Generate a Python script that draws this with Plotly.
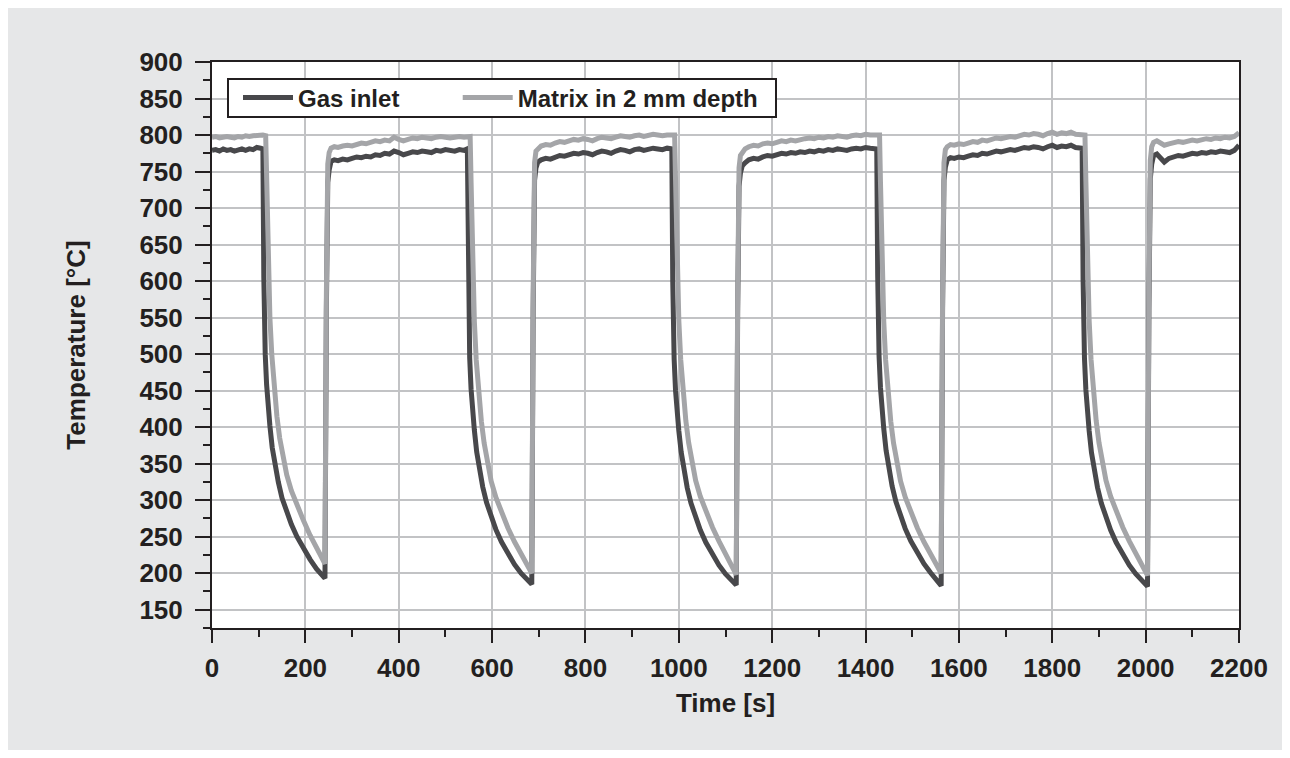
import plotly.graph_objects as go

# ---------------- data ----------------
gas_time = [
    0, 8, 16, 24, 32, 40, 48, 56, 64, 72, 80, 88, 96, 104, 109,
    111, 112, 114, 117, 120, 124, 129, 135, 142, 150, 160, 170, 182, 196, 210, 224, 234, 242,
    245, 248, 251,
    255, 262, 270, 280, 290, 300, 310, 320, 330, 340, 350, 360, 370, 380, 390, 400, 410, 420, 430, 440,
    450, 460, 470, 480, 490, 500, 510, 520, 530, 540, 547,
    549, 550, 552, 555, 558, 562, 567, 573, 580, 588, 598, 608, 620, 634, 648, 662, 674, 685,
    688, 691, 694,
    698, 705, 715, 725, 735, 745, 755, 765, 775, 785, 795, 805, 815, 825, 835, 845, 855, 865, 875, 885,
    895, 905, 915, 925, 935, 945, 955, 965, 975, 985,
    987, 988, 990, 993, 996, 1000, 1005, 1011, 1018, 1026, 1036, 1046, 1058, 1072, 1086, 1100, 1112, 1123,
    1126, 1129, 1132,
    1136, 1142, 1150, 1160, 1170, 1180, 1190, 1200, 1210, 1220, 1230, 1240, 1250, 1260, 1270, 1280, 1290,
    1300, 1310, 1320, 1330, 1340, 1350, 1360, 1370, 1380, 1390, 1400, 1410, 1424,
    1426, 1427, 1429, 1432, 1435, 1439, 1444, 1450, 1457, 1465, 1475, 1485, 1497, 1511, 1525, 1539, 1551, 1562,
    1565, 1568, 1571,
    1575, 1582, 1590, 1600, 1610, 1620, 1630, 1640, 1650, 1660, 1670, 1680, 1690, 1700, 1710, 1720, 1730,
    1740, 1750, 1760, 1770, 1780, 1790, 1800, 1810, 1820, 1830, 1840, 1850, 1864,
    1866, 1867, 1869, 1872, 1875, 1879, 1884, 1890, 1897, 1905, 1915, 1925, 1937, 1951, 1965, 1979, 1992, 2004,
    2007, 2010, 2013,
    2017, 2024, 2032, 2040, 2050, 2060, 2070, 2080, 2090, 2100, 2110, 2120, 2130, 2140, 2150, 2160, 2170,
    2180, 2190, 2196, 2200,
]
gas_temp = [
    779, 780, 778, 781, 779, 780, 778, 780, 781, 779, 781, 780, 783, 782, 781,
    605, 548, 500, 458, 428, 402, 372, 348, 325, 303, 283, 267, 250, 233, 219, 206, 199, 193,
    560, 735, 752,
    764, 766, 765, 767, 766, 768, 770, 769, 771, 770, 773, 772, 775, 774, 778, 776, 773, 775, 777, 776,
    778, 777, 776, 779, 778, 780, 779, 778, 780, 779, 781,
    605, 545, 495, 452, 422, 396, 366, 342, 318, 297, 277, 260, 243, 226, 212, 200, 192, 185,
    560, 738, 755,
    763, 766, 768, 767, 770, 772, 771, 773, 775, 774, 776, 775, 773, 776, 778, 777, 775, 778, 780, 779,
    777, 780, 781, 779, 780, 782, 781, 780, 782, 781,
    600, 542, 493, 450, 421, 395, 366, 341, 317, 296, 276, 259, 242, 225, 211, 199, 191, 184,
    555, 730, 748,
    758, 762, 766, 768, 767, 770, 772, 771, 773, 775, 774, 776, 775, 777, 776, 778, 777,
    779, 778, 780, 779, 781, 780, 779, 781, 782, 781, 783, 782, 781,
    608, 547, 497, 454, 424, 398, 368, 343, 319, 298, 278, 261, 244, 227, 213, 201, 191, 183,
    560, 738, 756,
    766, 769, 768, 770, 769, 771, 773, 772, 775, 774, 776, 778, 777, 779, 780, 779, 781,
    783, 782, 784, 783, 781, 784, 786, 783, 785, 784, 786, 783, 782,
    603, 544, 494, 451, 421, 395, 365, 341, 317, 296, 276, 259, 242, 225, 211, 199, 190, 182,
    560, 740, 760,
    772, 774, 768, 763, 768, 770, 772, 771, 773, 775, 774, 776, 775, 777, 776, 778, 777,
    776, 779, 784, 786,
]

matrix_time = [
    0, 8, 16, 24, 32, 40, 48, 56, 64, 72, 80, 88, 96, 104, 109,
    115, 117, 119, 121, 124, 128, 133, 139, 145, 152, 160, 170, 182, 196, 210, 224, 234, 242,
    245, 248, 251,
    255, 262, 270, 280, 290, 300, 310, 320, 330, 340, 350, 360, 370, 380, 390, 400, 410, 420, 430, 440,
    450, 460, 470, 480, 490, 500, 510, 520, 530, 540, 547,
    553, 555, 557, 559, 562, 566, 571, 577, 583, 590, 598, 608, 620, 634, 648, 662, 674, 685,
    688, 691, 694,
    698, 705, 715, 725, 735, 745, 755, 765, 775, 785, 795, 805, 815, 825, 835, 845, 855, 865, 875, 885,
    895, 905, 915, 925, 935, 945, 955, 965, 975, 985,
    991, 993, 995, 997, 1000, 1004, 1009, 1015, 1021, 1028, 1036, 1046, 1058, 1072, 1086, 1100, 1112, 1123,
    1126, 1129, 1132,
    1136, 1142, 1150, 1160, 1170, 1180, 1190, 1200, 1210, 1220, 1230, 1240, 1250, 1260, 1270, 1280, 1290,
    1300, 1310, 1320, 1330, 1340, 1350, 1360, 1370, 1380, 1390, 1400, 1410, 1424,
    1430, 1432, 1434, 1436, 1439, 1443, 1448, 1454, 1460, 1467, 1475, 1485, 1497, 1511, 1525, 1539, 1551, 1562,
    1565, 1568, 1571,
    1575, 1582, 1590, 1600, 1610, 1620, 1630, 1640, 1650, 1660, 1670, 1680, 1690, 1700, 1710, 1720, 1730,
    1740, 1750, 1760, 1770, 1780, 1790, 1800, 1810, 1820, 1830, 1840, 1850, 1864,
    1870, 1872, 1874, 1876, 1879, 1883, 1888, 1894, 1900, 1907, 1915, 1925, 1937, 1951, 1965, 1979, 1992, 2004,
    2007, 2010, 2013,
    2017, 2024, 2032, 2040, 2050, 2060, 2070, 2080, 2090, 2100, 2110, 2120, 2130, 2140, 2150, 2160, 2170,
    2180, 2190, 2196, 2200,
]
matrix_temp = [
    797, 798, 796, 797, 798, 797, 796, 798, 797, 799, 798, 799, 800, 801, 800,
    799, 740, 670, 610, 550, 500, 455, 415, 385, 358, 335, 313, 292, 272, 252, 236, 222, 213,
    580, 760, 776,
    782, 784, 783, 785, 786, 785, 787, 789, 788, 790, 792, 791, 793, 792, 797, 794, 792, 794, 796, 795,
    797, 796, 795, 797, 798, 797, 796, 797, 798, 797, 798,
    798, 735, 665, 605, 545, 492, 448, 408, 378, 350, 326, 304, 283, 262, 243, 226, 211, 200,
    580, 762, 778,
    781, 785, 787, 786, 789, 791, 790, 792, 794, 793, 795, 794, 792, 795, 797, 796, 795, 797, 799, 798,
    797, 799, 800, 798, 799, 801, 800, 799, 800, 800,
    800, 738, 668, 607, 546, 493, 449, 409, 379, 351, 327, 305, 284, 263, 244, 227, 210, 198,
    575, 755, 772,
    777, 781, 784, 786, 785, 788, 789, 788, 790, 792, 791, 793, 792, 794, 795, 796, 795,
    797, 796, 798, 797, 799, 798, 797, 799, 800, 799, 801, 800, 800,
    800, 735, 665, 605, 545, 492, 448, 408, 378, 350, 326, 304, 283, 262, 243, 226, 211, 200,
    580, 762, 780,
    784, 787, 786, 788, 787, 789, 791, 790, 793, 792, 794, 796, 795, 797, 798, 797, 799,
    801, 800, 802, 801, 799, 802, 804, 801, 803, 802, 804, 801, 800,
    800, 736, 666, 606, 546, 493, 449, 409, 379, 351, 327, 305, 284, 263, 244, 226, 210, 197,
    580, 765, 784,
    790, 792, 789, 786, 788, 790, 791, 790, 792, 793, 792, 794, 795, 794, 796, 795, 797,
    796, 798, 801, 803,
]

series_names = ["Gas inlet", "Matrix in 2 mm depth"]
x_ticks = list(range(0, 2201, 200))
y_ticks = list(range(150, 901, 50))

# ---------------- styling ----------------
FONT = "Liberation Sans, Arial, Helvetica, sans-serif"
TXT = "#231f20"
GRID = "#c2c3c5"
PANEL = "#e6e7e8"
W, H = 1274, 742
L, R, T, B = 204, 43, 54, 122
pw, ph = W - L - R, H - T - B


def fx(p):  # figure pixel -> paper x
    return (p - L) / pw


def fy(p):  # figure pixel -> paper y
    return (H - B - p) / ph


fig = go.Figure()
fig.add_trace(go.Scatter(x=gas_time, y=gas_temp, mode="lines",
                         name=series_names[0] + "\u00a0" * 8,
                         line=dict(color="#48484b", width=5)))
fig.add_trace(go.Scatter(x=matrix_time, y=matrix_temp, mode="lines", name=series_names[1],
                         line=dict(color="#a4a5a8", width=5)))

# legend frame
fig.add_shape(type="rect", xref="paper", yref="paper",
              x0=fx(220), x1=fx(768), y0=fy(109), y1=fy(71),
              fillcolor="white", line=dict(color=TXT, width=2))

axis_common = dict(
    showline=True, linecolor=TXT, linewidth=2, mirror=True,
    showgrid=True, gridcolor=GRID, gridwidth=2,
    ticks="outside", tickcolor=TXT, tickwidth=2,
    tickfont=dict(family=FONT, size=26, color=TXT, weight="bold"),
    zeroline=False,
)

fig.update_xaxes(
    range=[0, 2200], tickvals=x_ticks, ticklen=13, ticklabelstandoff=3,
    minor=dict(dtick=100, ticks="outside", ticklen=7, tickcolor=TXT, tickwidth=2, showgrid=False),
    title=dict(text="<b>Time [s]</b>", font=dict(family=FONT, size=26, color=TXT), standoff=12),
    **axis_common,
)
fig.update_yaxes(
    range=[125, 900], tickvals=y_ticks, ticklen=15, ticklabelstandoff=7,
    minor=dict(dtick=25, tick0=0, ticks="outside", ticklen=7, tickcolor=TXT, tickwidth=2, showgrid=False),
    title=dict(text="<b>Temperature [°C]</b>", font=dict(family=FONT, size=26, color=TXT), standoff=46),
    **axis_common,
)

fig.update_layout(
    width=W, height=H,
    margin=dict(l=L, r=R, t=T, b=B),
    paper_bgcolor=PANEL, plot_bgcolor="white",
    showlegend=True,
    legend=dict(
        orientation="h", x=fx(230), y=fy(90), xanchor="left", yanchor="middle",
        bgcolor="rgba(0,0,0,0)", borderwidth=0,
        font=dict(family=FONT, size=24, color=TXT, weight="bold"),
        itemwidth=50, tracegroupgap=0,
    ),
)

fig.write_html("out.html")
